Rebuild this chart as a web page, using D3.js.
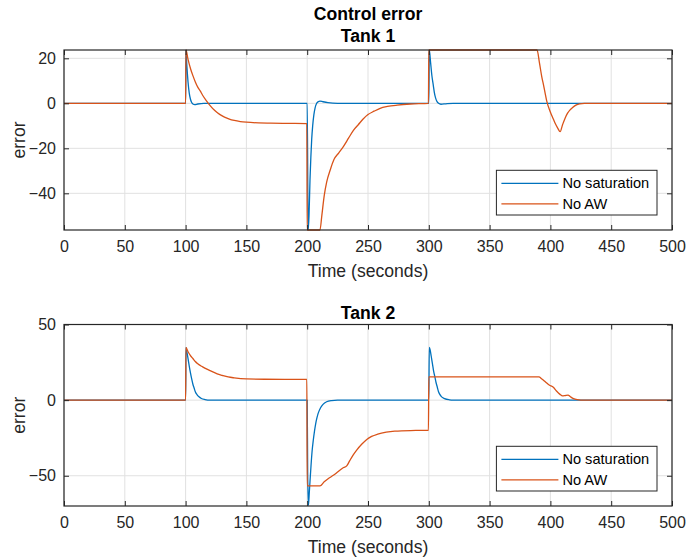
<!DOCTYPE html>
<html>
<head>
<meta charset="utf-8">
<script src="https://cdn.jsdelivr.net/npm/d3@7"></script>
<style>
  html, body { margin: 0; padding: 0; background: #fff; }
  svg { display: block; font-family: "Liberation Sans", Arial, Helvetica, sans-serif; }
</style>
</head>
<body>
<svg id="chart" width="687" height="560"></svg>
<script>
// ---------- data ----------
const xTicks = [0, 50, 100, 150, 200, 250, 300, 350, 400, 450, 500];
const tank1YTicks = [-40, -20, 0, 20];
const tank2YTicks = [-50, 0, 50];
const seriesNames = ["No saturation", "No AW"];

// Tank 1, "No saturation" : [time, error]
const tank1NoSat = [
  [0,0],[100,0],[100.3,23.7],[101,17],[102,9.5],[103,4.5],[104,1.8],[105,0.4],[106,-0.3],
  [107.5,-0.6],[110,-0.3],[115,0],[200,0],[200.8,-56.3],[201.5,-50],[202.3,-34],[203,-24],
  [203.7,-16],[204.5,-10],[205.5,-5],[206.5,-2],[207.8,0],[209,0.7],[210.5,1.0],[213,0.7],
  [217,0.3],[225,0],[300,0],[300.4,23.7],[301.5,18],[302.5,12.5],[303.7,8],[304.5,5],
  [305.5,2.5],[306.5,1.0],[308,0],[310,-0.4],[314,-0.2],[320,0],[500,0]
];
// Tank 1, "No AW"
const tank1NoAW = [
  [0,0],[100,0],[100.3,23.7],[102,19.5],[104,15.5],[106,12.3],[108,9.5],[110,7.2],[112,5.5],
  [114,3.6],[117,1.2],[120,-0.9],[124,-3.2],[128,-4.9],[132,-6.1],[136,-7.0],[140,-7.6],
  [145,-8.1],[150,-8.4],[160,-8.7],[170,-8.8],[185,-8.9],[199.7,-9.0],[200,-56.3],
  [210.5,-56.3],[212,-50],[214,-41],[216,-35],[219,-29.5],[222,-25],[226,-22],[230,-19],
  [234,-15.5],[238,-12],[242,-9.5],[246,-7],[250,-5],[255,-3.5],[260,-2.2],[266,-1.4],
  [274,-0.8],[285,-0.3],[299.7,0],[300,23.7],[389,23.7],[391,18],[393,11.5],[394.2,8.5],
  [395.5,5],[397,1],[399.7,-3.5],[402.4,-7],[404,-9],[406,-11],[408,-12.6],[410,-9.5],
  [412,-6.7],[414,-4.5],[416,-3],[418,-2],[421,-0.8],[424,-0.2],[428,0],[500,0]
];
// Tank 2, "No saturation"
const tank2NoSat = [
  [0,0],[100,0],[100.3,34.8],[101,32],[102,27.5],[103,22.5],[104,18],[105,14],[106,10.5],
  [107,8],[108,5.5],[109.5,3.5],[111,2.2],[113,1.1],[116,0.4],[120,0],[200,0],[200.4,-48],
  [201,-69.5],[201.8,-60],[203,-45],[204,-34],[205,-26.5],[206,-20.5],[207,-15.5],[208,-11.8],
  [209,-8.8],[211,-5],[213,-2.8],[216,-1.1],[220,-0.3],[225,0],[300,0],[300.4,34.8],
  [301,33.5],[302,29],[303,24],[304,19],[305,15.4],[306,11.5],[307,8.5],[308,5.5],[310,2.7],
  [313,1],[317,0.2],[320,0],[500,0]
];
// Tank 2, "No AW"
const tank2NoAW = [
  [0,0],[100,0],[100.3,34.8],[102,32],[104,29.5],[106,27.5],[108,25.5],[110,24],[114,22],
  [118,20.3],[122,18.8],[126,17.4],[130,16.4],[135,15.3],[140,14.7],[150,14],[165,13.8],
  [199.7,13.7],[200,-56.7],[210.5,-56.7],[214,-54],[218,-51.5],[221.5,-49.7],[225,-47.5],
  [229,-45],[232.5,-43.5],[235,-40],[238,-36],[240.7,-33],[245,-29],[249,-26],[253,-24],
  [258,-22.5],[265,-21.2],[272,-20.5],[285,-20.1],[299.7,-20],[300,15.4],[390.5,15.4],
  [393,14],[396,12],[399,10],[402.4,8.5],[405,6],[407.9,3.8],[410,2.8],[412,3.0],[414.5,3.3],
  [416.5,2.2],[419,1.0],[422,0.3],[425,0],[500,0]
];

// ---------- drawing ----------
const svg = d3.select("#chart");
const colors = ["#0072BD", "#D95319"];
const axisColor = "#262626";
const gridColor = "#e1e1e1";
const left = 64, right = 672;

svg.append("text")
  .attr("x", (left + right) / 2).attr("y", 19.5)
  .attr("text-anchor", "middle")
  .attr("font-size", 17.6).attr("font-weight", "bold").attr("fill", "#000")
  .text("Control error");

function panel(cfg) {
  const x = d3.scaleLinear().domain([0, 500]).range([left, right]);
  const y = d3.scaleLinear().domain(cfg.yDomain).range([cfg.bottom, cfg.top]);
  const g = svg.append("g");

  // grid
  g.append("g").selectAll("line").data(xTicks).join("line")
    .attr("x1", d => x(d)).attr("x2", d => x(d))
    .attr("y1", cfg.top).attr("y2", cfg.bottom)
    .attr("stroke", gridColor).attr("stroke-width", 1);
  g.append("g").selectAll("line").data(cfg.yTicks).join("line")
    .attr("x1", left).attr("x2", right)
    .attr("y1", d => y(d)).attr("y2", d => y(d))
    .attr("stroke", gridColor).attr("stroke-width", 1);

  // data lines
  const line = d3.line().x(d => x(d[0])).y(d => y(d[1])).curve(d3.curveMonotoneX);
  const clipId = "clip" + cfg.id;
  svg.append("clipPath").attr("id", clipId).append("rect")
    .attr("x", left).attr("y", cfg.top - 1).attr("width", right - left).attr("height", cfg.bottom - cfg.top + 2);
  cfg.series.forEach((s, i) => {
    g.append("path").datum(s)
      .attr("clip-path", `url(#${clipId})`)
      .attr("fill", "none").attr("stroke", colors[i]).attr("stroke-width", 1.3)
      .attr("stroke-linejoin", "round")
      .attr("d", line);
  });

  // axes (ticks inward, all four sides)
  const tl = 5;
  const bottomAxis = d3.axisBottom(x).tickValues(xTicks).tickSizeInner(-tl).tickSizeOuter(0).tickPadding(10);
  const topAxis = d3.axisTop(x).tickValues(xTicks).tickSizeInner(-tl).tickSizeOuter(0).tickFormat("");
  const leftAxis = d3.axisLeft(y).tickValues(cfg.yTicks).tickSizeInner(-tl).tickSizeOuter(0).tickPadding(8);
  const rightAxis = d3.axisRight(y).tickValues(cfg.yTicks).tickSizeInner(-tl).tickSizeOuter(0).tickFormat("");

  const style = sel => {
    sel.select(".domain").remove();
    sel.selectAll(".tick line").attr("stroke", axisColor).attr("stroke-width", 1);
    sel.selectAll(".tick text").attr("fill", axisColor).attr("font-size", 16)
      .attr("font-family", "'Liberation Sans', Arial, Helvetica, sans-serif");
  };
  g.append("g").attr("transform", `translate(0,${cfg.bottom})`).call(bottomAxis).call(style)
    .selectAll(".tick text").attr("dy", "0.71em").attr("y", 11);
  g.append("g").attr("transform", `translate(0,${cfg.top})`).call(topAxis).call(style);
  g.append("g").attr("transform", `translate(${left},0)`).call(leftAxis).call(style);
  g.append("g").attr("transform", `translate(${right},0)`).call(rightAxis).call(style);

  // box
  g.append("rect").attr("x", left).attr("y", cfg.top)
    .attr("width", right - left).attr("height", cfg.bottom - cfg.top)
    .attr("fill", "none").attr("stroke", axisColor).attr("stroke-width", 1.2);

  // labels
  g.append("text").attr("x", (left + right) / 2).attr("y", cfg.titleY)
    .attr("text-anchor", "middle").attr("font-size", 17.6).attr("font-weight", "bold").attr("fill", "#000")
    .text(cfg.title);
  g.append("text").attr("x", (left + right) / 2).attr("y", cfg.bottom + 46.5)
    .attr("text-anchor", "middle").attr("font-size", 17.6).attr("fill", axisColor)
    .text("Time (seconds)");
  g.append("text")
    .attr("transform", `translate(25,${(cfg.top + cfg.bottom) / 2}) rotate(-90)`)
    .attr("text-anchor", "middle").attr("font-size", 17.6).attr("fill", axisColor)
    .text("error");

  // legend
  const lw = 160.6, lh = 44.7;
  const lx = right - 15 - lw, ly = cfg.bottom - 15 - lh;
  const lg = g.append("g").attr("transform", `translate(${lx},${ly})`);
  lg.append("rect").attr("width", lw).attr("height", lh)
    .attr("fill", "#fff").attr("stroke", axisColor).attr("stroke-width", 1);
  seriesNames.forEach((name, i) => {
    const cy = 13 + i * 20.5;
    lg.append("line").attr("x1", 5).attr("x2", 62).attr("y1", cy).attr("y2", cy)
      .attr("stroke", colors[i]).attr("stroke-width", 1.3);
    lg.append("text").attr("x", 66).attr("y", cy).attr("dy", "0.35em")
      .attr("font-size", 14.6).attr("fill", "#000").text(name);
  });
}

panel({ id: 1, top: 50, bottom: 230, yDomain: [-56.3, 23.7], yTicks: tank1YTicks,
        title: "Tank 1", titleY: 42, series: [tank1NoSat, tank1NoAW] });
panel({ id: 2, top: 324.5, bottom: 506, yDomain: [-70, 50], yTicks: tank2YTicks,
        title: "Tank 2", titleY: 318.5, series: [tank2NoSat, tank2NoAW] });
</script>
</body>
</html>
